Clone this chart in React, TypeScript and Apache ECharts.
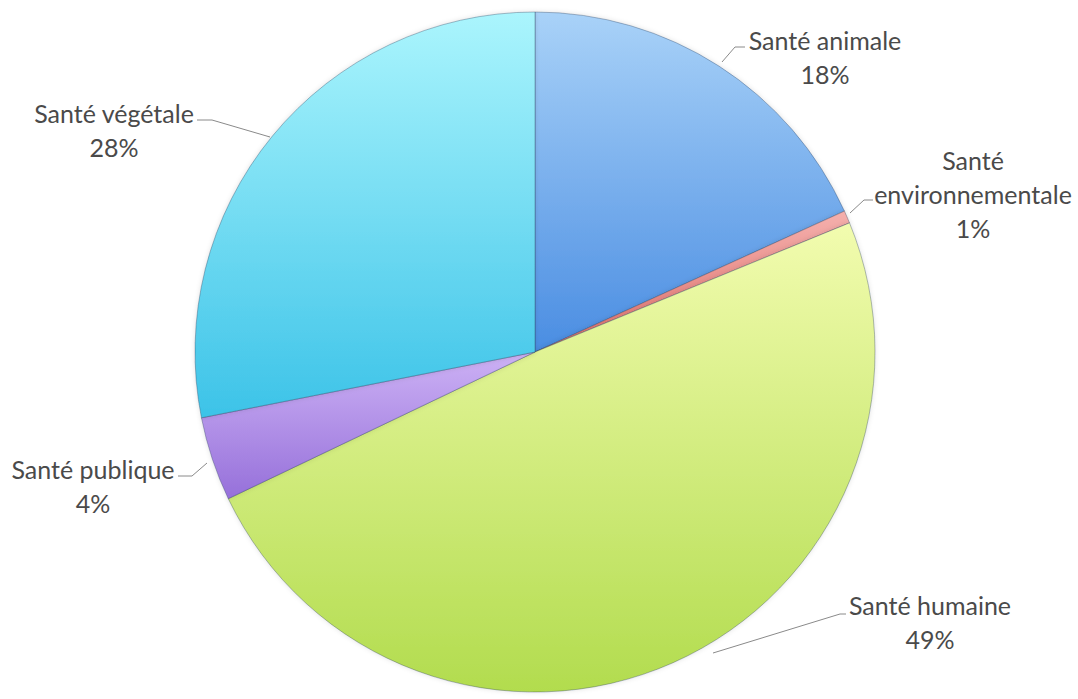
import React, { useEffect, useRef } from "react";
import * as echarts from "echarts";

const categories = [
  "Santé animale",
  "Santé environnementale",
  "Santé humaine",
  "Santé publique",
  "Santé végétale",
];
const values = [18.2, 0.6, 49.1, 4.0, 28.1];

const colorTop = ["#a9d2f8", "#f5b0ad", "#f2fcaf", "#cdb2f5", "#abf5fd"];
const colorBottom = ["#4a8de2", "#de6f6a", "#b2dc4e", "#9670da", "#3cc3e8"];

// label layout (text block centre) and leader line points
const labelPos: [number, number][] = [
  [825, 57],
  [973, 194],
  [930, 622],
  [93, 486],
  [114, 130],
];
const labelLines: [number, number][][] = [
  [[722, 62], [735, 47], [745, 47]],
  [[850, 213], [864, 200], [873, 200]],
  [[713, 653], [840, 614], [846, 614]],
  [[207, 463], [192, 476], [178, 476]],
  [[270, 137], [212, 120], [197, 120]],
];

export default function App() {
  const ref = useRef<HTMLDivElement>(null);
  useEffect(() => {
    document.body.style.margin = "0";
    const chart = echarts.init(ref.current!, undefined, { renderer: "svg" });
    chart.setOption({
      animation: false,
      backgroundColor: "#ffffff",
      series: [
        {
          type: "pie",
          center: [535, 352],
          radius: 340,
          startAngle: 90,
          clockwise: true,
          avoidLabelOverlap: false,
          data: categories.map((name, i) => ({
            name,
            value: values[i],
            itemStyle: {
              color: new echarts.graphic.LinearGradient(0, 0, 0, 1, [
                { offset: 0, color: colorTop[i] },
                { offset: 1, color: colorBottom[i] },
              ]),
            },
          })),
          itemStyle: {
            borderColor: "rgba(40,60,90,0.35)",
            borderWidth: 1,
            shadowBlur: 5,
            shadowColor: "rgba(0,0,0,0.12)",
          },
          label: {
            show: true,
            position: "outside",
            formatter: (p: any) =>
              (p.dataIndex === 1 ? "Santé\nenvironnementale" : p.name) +
              "\n" +
              Math.round(p.value) +
              "%",
            fontFamily: "Lato",
            fontSize: 25,
            lineHeight: 34,
            color: "#4a4a4a",
            align: "center",
          },
          labelLine: {
            show: true,
            lineStyle: { color: "#8a8a8a", width: 1 },
          },
          labelLayout: (params: any) => {
            const i = params.dataIndex;
            return {
              x: labelPos[i][0],
              y: labelPos[i][1],
              align: "center",
              verticalAlign: "middle",
              labelLinePoints: labelLines[i],
            };
          },
          emphasis: { disabled: true },
        },
      ],
    });
    return () => chart.dispose();
  }, []);
  return <div ref={ref} style={{ width: 1078, height: 699 }} />;
}
